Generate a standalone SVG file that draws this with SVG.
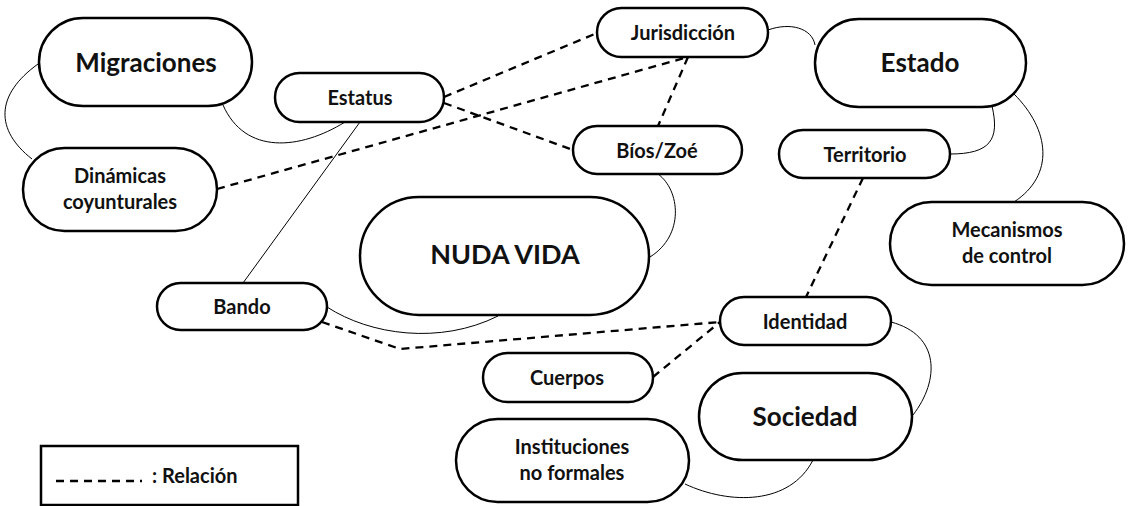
<svg xmlns="http://www.w3.org/2000/svg" width="1132" height="506" viewBox="0 0 1132 506">
<style>
.box{fill:#fff;stroke:#000;stroke-width:2.5}
.t{font-family:Lato,"Open Sans","Liberation Sans",sans-serif;font-weight:bold;fill:#111;text-anchor:middle;dominant-baseline:central}
.s{font-size:20px}
.b{font-size:26px}
.c{fill:none;stroke:#000;stroke-width:1}
.d{fill:none;stroke:#000;stroke-width:2.3;stroke-dasharray:8 6}
</style>
<rect width="1132" height="506" fill="#fff"/>
<g id="connectors">
<path class="c" d="M38,64 C-5,95 -5,130 32,159"/>
<path class="c" d="M223,105 C245,155 300,150 345,122"/>
<path class="c" d="M360,122 L243,283"/>
<path class="c" d="M768,30 C790,22 812,28 815,45"/>
<path class="c" d="M992,106 C1000,140 990,154 950,154"/>
<path class="c" d="M1014,94 C1050,130 1055,175 1014,202"/>
<path class="c" d="M658,174 C680,190 685,235 650,257"/>
<path class="c" d="M327,307 C370,335 440,345 498,316"/>
<path class="c" d="M891,322 C940,335 940,380 913,415"/>
<path class="c" d="M813,460 C790,505 730,505 685,484"/>
<path class="d" d="M444,97 L597,33"/>
<path class="d" d="M217,189 L688,57"/>
<path class="d" d="M444,103 L573,150"/>
<path class="d" d="M688,57 L658,126"/>
<path class="d" d="M863,178 L806,297"/>
<path class="d" d="M322,322 L400,349 L720,322"/>
<path class="d" d="M653,377 L720,322"/>
</g>
<g id="migraciones"><rect class="box" x="39" y="18" width="213" height="88" rx="44"/><text class="t b" x="146" y="62">Migraciones</text></g>
<g id="estatus"><rect class="box" x="275" y="73" width="169" height="49" rx="24.5"/><text class="t s" x="360" y="97">Estatus</text></g>
<g id="jurisdiccion"><rect class="box" x="597" y="8" width="171" height="49" rx="24.5"/><text class="t s" x="683" y="32">Jurisdicción</text></g>
<g id="estado"><rect class="box" x="815" y="19" width="211" height="88" rx="44"/><text class="t b" x="920" y="62">Estado</text></g>
<g id="bios"><rect class="box" x="573" y="126" width="169" height="48" rx="24"/><text class="t s" x="657" y="150">Bíos/Zoé</text></g>
<g id="territorio"><rect class="box" x="779" y="130" width="171" height="48" rx="24"/><text class="t s" x="865" y="154">Territorio</text></g>
<g id="dinamicas"><rect class="box" x="23" y="148" width="194" height="83" rx="41.5"/><text class="t s" x="120" y="175">Dinámicas</text><text class="t s" x="120" y="201">coyunturales</text></g>
<g id="mecanismos"><rect class="box" x="890" y="202" width="234" height="83" rx="41.5"/><text class="t s" x="1007" y="229">Mecanismos</text><text class="t s" x="1007" y="255">de control</text></g>
<g id="nudavida"><rect class="box" x="360" y="197" width="289" height="118" rx="59"/><text class="t" style="font-size:27px" x="505" y="253">NUDA VIDA</text></g>
<g id="bando"><rect class="box" x="157" y="283" width="170" height="47" rx="23.5"/><text class="t s" x="242" y="306">Bando</text></g>
<g id="identidad"><rect class="box" x="720" y="297" width="171" height="48" rx="24"/><text class="t s" x="805" y="321">Identidad</text></g>
<g id="cuerpos"><rect class="box" x="483" y="353" width="170" height="49" rx="24.5"/><text class="t s" x="567" y="377">Cuerpos</text></g>
<g id="sociedad"><rect class="box" x="699" y="373" width="213" height="87" rx="43.5"/><text class="t b" x="805" y="416">Sociedad</text></g>
<g id="instituciones"><rect class="box" x="456" y="419" width="233" height="83" rx="41.5"/><text class="t s" x="572" y="446">Instituciones</text><text class="t s" x="572" y="472">no formales</text></g>
<g id="legend"><rect x="41" y="446" width="257" height="59" fill="#fff" stroke="#000" stroke-width="2.5"/><path class="d" d="M56,481 L142,481"/><text class="t s" style="text-anchor:start" x="152" y="475">: Relación</text></g>
</svg>
